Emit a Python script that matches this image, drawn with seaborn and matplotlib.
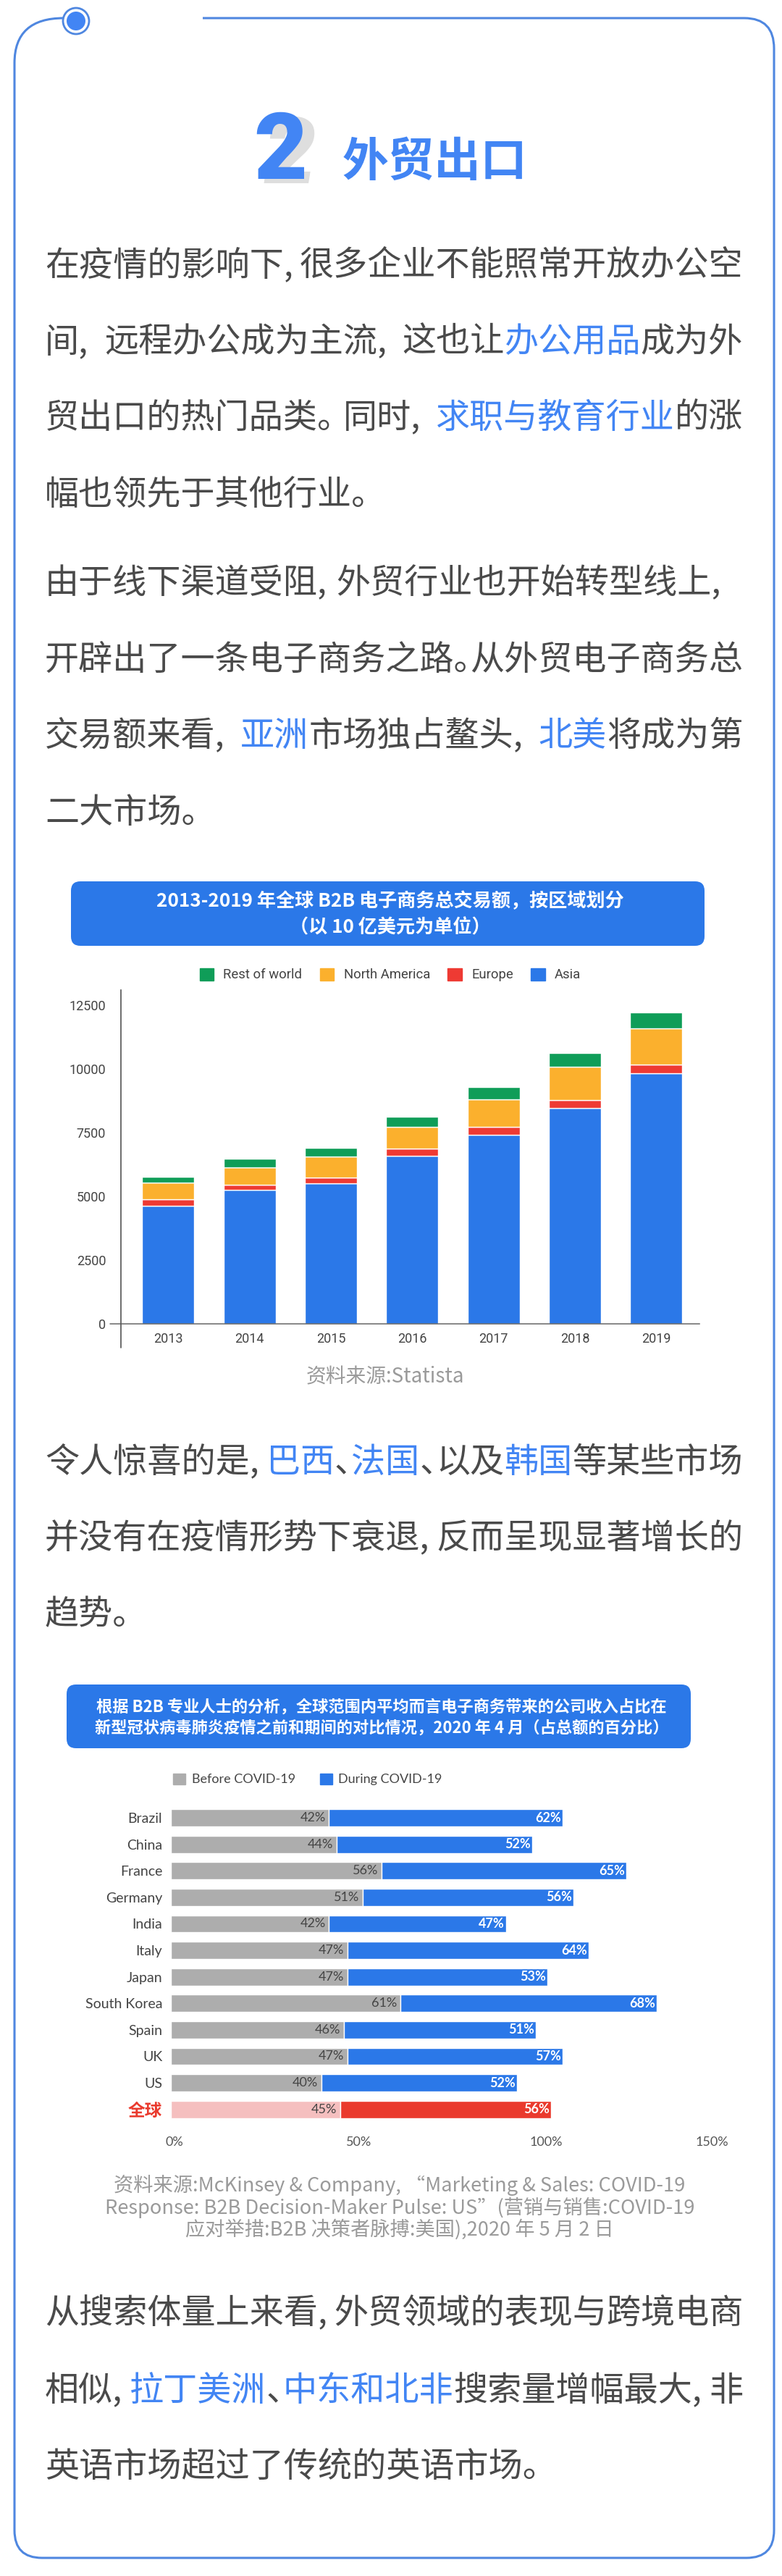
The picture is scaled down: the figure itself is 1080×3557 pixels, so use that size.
import numpy as np
import pandas as pd
import matplotlib
matplotlib.use('Agg')
import matplotlib.pyplot as plt
import matplotlib.transforms as mtrans
from matplotlib.patches import Circle, FancyBboxPatch, PathPatch, Patch
from matplotlib.path import Path
import seaborn as sns

# chart 1 data
years = ['2013', '2014', '2015', '2016', '2017', '2018', '2019']
asia = [4640, 5250, 5500, 6600, 7420, 8470, 9830]
europe = [250, 210, 250, 280, 320, 320, 330]
north_america = [640, 690, 800, 860, 1070, 1300, 1430]
rest_of_world = [250, 320, 360, 390, 470, 540, 640]
yticks_1 = [0, 2500, 5000, 7500, 10000, 12500]

# chart 2 data
countries = ['Brazil', 'China', 'France', 'Germany', 'India', 'Italy', 'Japan',
             'South Korea', 'Spain', 'UK', 'US', '全球']
before = [42, 44, 56, 51, 42, 47, 47, 61, 46, 47, 40, 45]
during = [62, 52, 65, 56, 47, 64, 53, 68, 51, 57, 52, 56]
xticks_2 = [0, 50, 100, 150]

title_1 = ['2013-2019 年全球 B2B 电子商务总交易额，按区域划分', '（以 10 亿美元为单位）']
title_2 = ['根据 B2B 专业人士的分析，全球范围内平均而言电子商务带来的公司收入占比在',
           '新型冠状病毒肺炎疫情之前和期间的对比情况，2020 年 4 月（占总额的百分比）']
source_1 = '资料来源:Statista'
source_2 = ['资料来源:McKinsey & Company, “Marketing & Sales: COVID-19',
            'Response: B2B Decision-Maker Pulse: US”(营销与销售:COVID-19',
            '应对举措:B2B 决策者脉搏:美国),2020 年 5 月 2 日']

BLUE = '#4285F4'
FRAME = '#4F87E0'
TEXT = '#4A4A4A'
BAR_BLUE = '#2B78E8'
BAR_GRAY = '#ADADAD'
CJK = ['Noto Sans CJK SC', 'DejaVu Sans']

# body text, one list of pieces per line, second item 1 means highlighted
# the y is the middle of the glyphs, True means the line runs to the right margin
body = [
    (362, [('在疫情的影响下,', 0), ('很多企业不能照常开放办公空', 0)], True),
    (468, [('间,', 0), ('远程办公成为主流,', 0), ('这也让', 0), ('办公用品', 1), ('成为外', 0)], True),
    (573, [('贸出口的热门品类。', 0), ('同时,', 0), ('求职与教育行业', 1), ('的涨', 0)], True),
    (679, [('幅也领先于其他行业。', 0)], False),
    (801, [('由于线下渠道受阻,', 0), ('外贸行业也开始转型线上,', 0)], False),
    (907, [('开辟出了一条电子商务之路。', 0), ('从外贸电子商务总', 0)], True),
    (1012, [('交易额来看,', 0), ('亚洲', 1), ('市场独占鳌头,', 0), ('北美', 1), ('将成为第', 0)], True),
    (1118, [('二大市场。', 0)], False),
    (2015, [('令人惊喜的是,', 0), ('巴西', 1), ('、', 0), ('法国', 1), ('、', 0), ('以及', 0), ('韩国', 1), ('等某些市场', 0)], True),
    (2120, [('并没有在疫情形势下衰退,', 0), ('反而呈现显著增长的', 0)], True),
    (2225, [('趋势。', 0)], False),
    (3190, [('从搜索体量上来看,', 0), ('外贸领域的表现与跨境电商', 0)], True),
    (3297, [('相似,', 0), ('拉丁美洲', 1), ('、', 0), ('中东和北非', 1), ('搜索量增幅最大,', 0), ('非', 0)], True),
    (3402, [('英语市场超过了传统的英语市场。', 0)], False),
]

sns.set_theme(style='white')
plt.rcParams['font.family'] = CJK

W, H = 1080, 3557
fig = plt.figure(figsize=(W / 100, H / 100), dpi=100, facecolor='white')
bg = fig.add_axes([0, 0, 1, 1])
bg.set_xlim(0, W)
bg.set_ylim(H, 0)
bg.axis('off')


def px_axes(left, top, right, bottom):
    return fig.add_axes([left / W, 1 - bottom / H, (right - left) / W, (bottom - top) / H], facecolor='none')


# frame, open on the top between the ring and the line
L, R, T, B = 20, 1069, 25, 3532
frame = Path(
    [(280, T), (R - 41, T), (R, T), (R, T + 42), (R, B - 38), (R, B), (R - 38, B),
     (L + 38, B), (L, B), (L, B - 38), (L, T + 62), (L, T), (88, T)],
    [Path.MOVETO, Path.LINETO, Path.CURVE3, Path.CURVE3, Path.LINETO, Path.CURVE3, Path.CURVE3,
     Path.LINETO, Path.CURVE3, Path.CURVE3, Path.LINETO, Path.CURVE3, Path.CURVE3])
bg.add_patch(PathPatch(frame, fc='none', ec=FRAME, lw=2.2))
bg.add_patch(Circle((105, 29), 18, fc='white', ec=FRAME, lw=2))
bg.add_patch(Circle((105, 29), 13, fc=BLUE, ec='none'))

# heading
bg.text(400, 253, '2', family='Roboto', weight='black', fontsize=92, color='#DEDEDE', ha='center', va='baseline', style='italic')
bg.text(387, 247, '2', family='Roboto', weight='black', fontsize=92, color=BLUE, ha='center', va='baseline')
bg.text(600, 224, '外贸出口', family=CJK, weight='bold', fontsize=46, color=BLUE, ha='center', va='center')

# body text, punctuation cells take up what the line has left
FS = 33.9
EM = FS * 100 / 72
for y, pieces, justified in body:
    breaks = [p for p, _ in pieces[:-1] if p[-1] in ',。、']
    n_chars = sum(len(p) for p, _ in pieces) - len(breaks)
    cell = (1026 - 62 - n_chars * EM) / len(breaks) if justified and breaks else 26
    x = 62
    for piece, hl in pieces:
        bg.text(x, y + 18, piece, fontsize=FS, color=BLUE if hl else TEXT, va='baseline', ha='left')
        if piece[-1] in ',。、':
            x += (len(piece) - 1) * EM + cell
        else:
            x += len(piece) * EM

# chart 1
bg.add_patch(FancyBboxPatch((98, 1217), 875, 89, boxstyle='round,pad=0,rounding_size=13', fc=BAR_BLUE, ec='none'))
for y, line in zip([1245, 1281], title_1):
    bg.text(539, y, line, family=CJK, weight='bold', fontsize=18.8, color='white', ha='center', va='center')

ax1 = px_axes(167, 1367, 966, 1828)
df1 = pd.DataFrame({'year': years, 'Asia': asia, 'Europe': europe,
                    'North America': north_america, 'Rest of world': rest_of_world})
bottom = np.zeros(len(years))
series_colors = {'Asia': BAR_BLUE, 'Europe': '#EE3A33', 'North America': '#FBB02D', 'Rest of world': '#0F9D58'}
for name, c in series_colors.items():
    sns.barplot(data=df1, x='year', y=name, color=c, saturation=1, width=0.64, errorbar=None, bottom=bottom, ax=ax1)
    bottom = bottom + df1[name].values
ax1.set_xlim(-0.58, 6.53)
ax1.set_ylim(0, 13097)
ax1.set_yticks(yticks_1)
ax1.set_xlabel('')
ax1.set_ylabel('')
ax1.tick_params(axis='y', length=0, pad=15, labelsize=13, labelcolor='#444444')
ax1.tick_params(axis='x', length=0, pad=9, labelsize=13, labelcolor='#444444')
for lab in ax1.get_xticklabels() + ax1.get_yticklabels():
    lab.set_family('Roboto')
sns.despine(ax=ax1, top=True, right=True)
ax1.spines['left'].set_color('#444444')
ax1.spines['bottom'].set_color('#666666')
ax1.spines['left'].set_linewidth(1.1)
ax1.spines['bottom'].set_linewidth(1.1)
bg.plot([167, 167], [1828, 1861], color='#444444', lw=1.1)
bg.plot([152, 167], [1828, 1828], color='#666666', lw=1.1)
handles = [Patch(color=series_colors[n], label=n) for n in ['Rest of world', 'North America', 'Europe', 'Asia']]
ax1.legend(handles=handles, ncol=4, loc='center', bbox_to_anchor=(539, 1346), bbox_transform=bg.transData,
           frameon=False, handlelength=1.05, handleheight=1.05, handletextpad=0.72, columnspacing=1.33,
           borderpad=0, prop={'family': 'Roboto', 'size': 13.3}, labelcolor='#444444')
bg.text(532, 1901, source_1, fontsize=20, color='#9A9A9A', ha='center', va='center')

# chart 2
bg.add_patch(FancyBboxPatch((92, 2326), 862, 88, boxstyle='round,pad=0,rounding_size=13', fc=BAR_BLUE, ec='none'))
for y, line in zip([2357, 2386], title_2):
    bg.text(527, y, line, family=CJK, weight='bold', fontsize=16, color='white', ha='center', va='center')

ax2 = px_axes(236, 2491.7, 1016, 2931)
df2 = pd.DataFrame({'country': countries, 'before': before, 'during': during})
sns.barplot(data=df2, y='country', x='before', orient='h', color=BAR_GRAY, saturation=1, width=0.65, errorbar=None, ax=ax2)
sns.barplot(data=df2, y='country', x='during', orient='h', color=BAR_BLUE, saturation=1, width=0.65, errorbar=None,
            left=np.array(before), ax=ax2)
ax2.containers[0][-1].set_facecolor('#F5BFBF')
ax2.containers[1][-1].set_facecolor('#EA3A2D')
ax2.set_xlim(0, 150)
ax2.set_ylim(11.5, -0.5)
ax2.set_xticks(xticks_2)
ax2.set_xticklabels([f'{v}%' for v in xticks_2])
ax2.set_xlabel('')
ax2.set_ylabel('')
sns.despine(ax=ax2, left=True, bottom=True)
ax2.tick_params(axis='y', length=0, pad=8.5, labelsize=14, labelcolor='#444444')
ax2.tick_params(axis='x', length=0, pad=14, labelsize=13, labelcolor='#555555')
for lab in ax2.get_xticklabels() + ax2.get_yticklabels():
    lab.set_family(['Lato', 'Noto Sans CJK SC'])
glob = ax2.get_yticklabels()[-1]
glob.set_color('#EA3A2D')
glob.set_weight('bold')
glob.set_fontsize(17)
glob.set_family(CJK)
for lab, shift in zip(ax2.get_xticklabels(), [5, 0, -2, -33]):
    lab.set_transform(lab.get_transform() + mtrans.ScaledTranslation(shift / 100, 0, fig.dpi_scale_trans))
for i in range(len(countries)):
    ax2.annotate(f'{before[i]}%', (before[i], i), xytext=(-3.5, 0), textcoords='offset points', ha='right', va='center',
                 family='Lato', fontsize=13, color='#444444')
    ax2.annotate(f'{during[i]}%', (before[i] + during[i], i), xytext=(-1.5, 0), textcoords='offset points', ha='right',
                 va='center', family='Lato', weight='bold', fontsize=13, color='white')
leg_handles = [Patch(color=BAR_GRAY, label='Before COVID-19'), Patch(color=BAR_BLUE, label='During COVID-19')]
ax2.legend(handles=leg_handles, ncol=2, loc='center', bbox_to_anchor=(425, 2457), bbox_transform=bg.transData,
           frameon=False, handlelength=0.95, handleheight=0.95, handletextpad=0.45, columnspacing=1.9,
           borderpad=0, prop={'family': 'Lato', 'size': 13}, labelcolor='#444444')
for y, line in zip([3017, 3048, 3078], source_2):
    bg.text(552, y, line, fontsize=19.6, color='#9A9A9A', ha='center', va='center')

fig.savefig('out.png', dpi=100)
